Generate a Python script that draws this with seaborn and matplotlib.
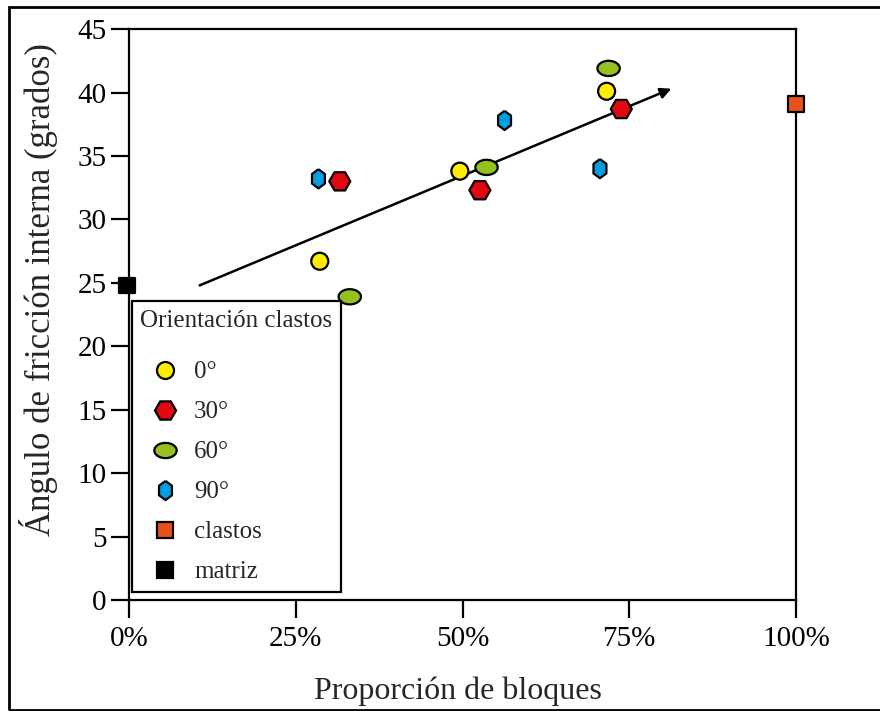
import numpy as np
import pandas as pd
import seaborn as sns
import matplotlib.pyplot as plt
from matplotlib.patches import Rectangle

### Datos ###
prop_0 = [28.6, 49.6, 71.6]
ang_0 = [26.7, 33.8, 40.1]
prop_30 = [31.6, 52.6, 73.8]
ang_30 = [33.0, 32.3, 38.7]
prop_60 = [33.1, 53.6, 71.9]
ang_60 = [23.9, 34.1, 41.9]
prop_90 = [28.4, 56.3, 70.6]
ang_90 = [33.2, 37.8, 34.0]
prop_clastos = [100.0]
ang_clastos = [39.1]
prop_matriz = [-0.3]
ang_matriz = [24.8]

# flecha de tendencia
trend_x = [10.6, 81.3]
trend_y = [24.8, 40.3]

groups = ["0°", "30°", "60°", "90°", "clastos", "matriz"]
x_ticks = [0, 25, 50, 75, 100]
x_ticklabels = ["0%", "25%", "50%", "75%", "100%"]
y_ticks = [0, 5, 10, 15, 20, 25, 30, 35, 40, 45]

df = pd.concat([
    pd.DataFrame({"prop": prop_0, "ang": ang_0, "grupo": "0°"}),
    pd.DataFrame({"prop": prop_30, "ang": ang_30, "grupo": "30°"}),
    pd.DataFrame({"prop": prop_60, "ang": ang_60, "grupo": "60°"}),
    pd.DataFrame({"prop": prop_90, "ang": ang_90, "grupo": "90°"}),
    pd.DataFrame({"prop": prop_clastos, "ang": ang_clastos, "grupo": "clastos"}),
    pd.DataFrame({"prop": prop_matriz, "ang": ang_matriz, "grupo": "matriz"}),
], ignore_index=True)

### Marcadores personalizados ###
t = np.linspace(0, 2 * np.pi, 60)
ellipse = np.column_stack([np.cos(t), 0.68 * np.sin(t)])
a = np.deg2rad(90 + 60 * np.arange(7))
hex_tall = np.column_stack([0.78 * np.cos(a), np.sin(a)])

palette = {"0°": "#FFED00", "30°": "#E30613", "60°": "#95C11F",
           "90°": "#009FE3", "clastos": "#E8511E", "matriz": "#000000"}
markers = {"0°": "o", "30°": "H", "60°": ellipse, "90°": hex_tall,
           "clastos": "s", "matriz": "s"}
sizes = {"0°": 150, "30°": 230, "60°": 260, "90°": 190,
         "clastos": 120, "matriz": 120}

sns.set_theme(style="ticks")
plt.rcParams['font.family'] = ['Liberation Serif', 'DejaVu Serif']

fig = plt.figure(figsize=(8.8, 7.11), dpi=100)
ax = fig.add_axes([0.1466, 0.1561, 0.758, 0.803])

ax.annotate("", xy=(trend_x[1], trend_y[1]), xytext=(trend_x[0], trend_y[0]),
            arrowprops=dict(arrowstyle="-|>", lw=1.8, color="black",
                            mutation_scale=16, shrinkA=0, shrinkB=0), zorder=2)

sns.scatterplot(data=df, x="prop", y="ang", hue="grupo", style="grupo", size="grupo",
                hue_order=groups, style_order=groups, size_order=groups,
                palette=palette, markers=markers, sizes=sizes,
                edgecolor="black", linewidth=1.6, clip_on=False, zorder=3,
                legend="full", ax=ax)

ax.set_xlim(0, 100)
ax.set_ylim(0, 45)
ax.set_xticks(x_ticks)
ax.set_xticklabels(x_ticklabels)
ax.set_yticks(y_ticks)
for s in ax.spines.values():
    s.set_linewidth(1.6)
    s.set_color("black")
ax.tick_params(axis="both", direction="out", length=13, width=1.6,
               labelsize=21, colors="black")
ax.tick_params(axis="x", pad=6)
ax.tick_params(axis="y", pad=3)
ax.set_xlabel("Proporción de bloques", fontsize=23)
ax.set_ylabel("Ángulo de fricción interna (grados)", fontsize=25)
ax.xaxis.set_label_coords(0.493, -0.134)
ax.yaxis.set_label_coords(-0.106, 0.543)

sns.move_legend(ax, "lower left", bbox_to_anchor=(0.004, 0.014),
                title="Orientación clastos", frameon=True, fancybox=False,
                edgecolor="black", fontsize=18, title_fontsize=18,
                labelspacing=0.7, borderpad=0.35, handletextpad=0.15,
                handlelength=2.0, borderaxespad=0, alignment="left")
leg = ax.get_legend()
leg.get_frame().set_linewidth(1.6)
leg.get_frame().set_alpha(1)
leg.set_zorder(4)
leg._legend_box.sep = 21  # hueco extra bajo el título

# marco exterior
fig.add_artist(Rectangle((0.0102, 0.0014), 1.0, 0.9886, transform=fig.transFigure,
                         fill=False, lw=2, edgecolor="black"))

fig.savefig("out.png", dpi=100)
